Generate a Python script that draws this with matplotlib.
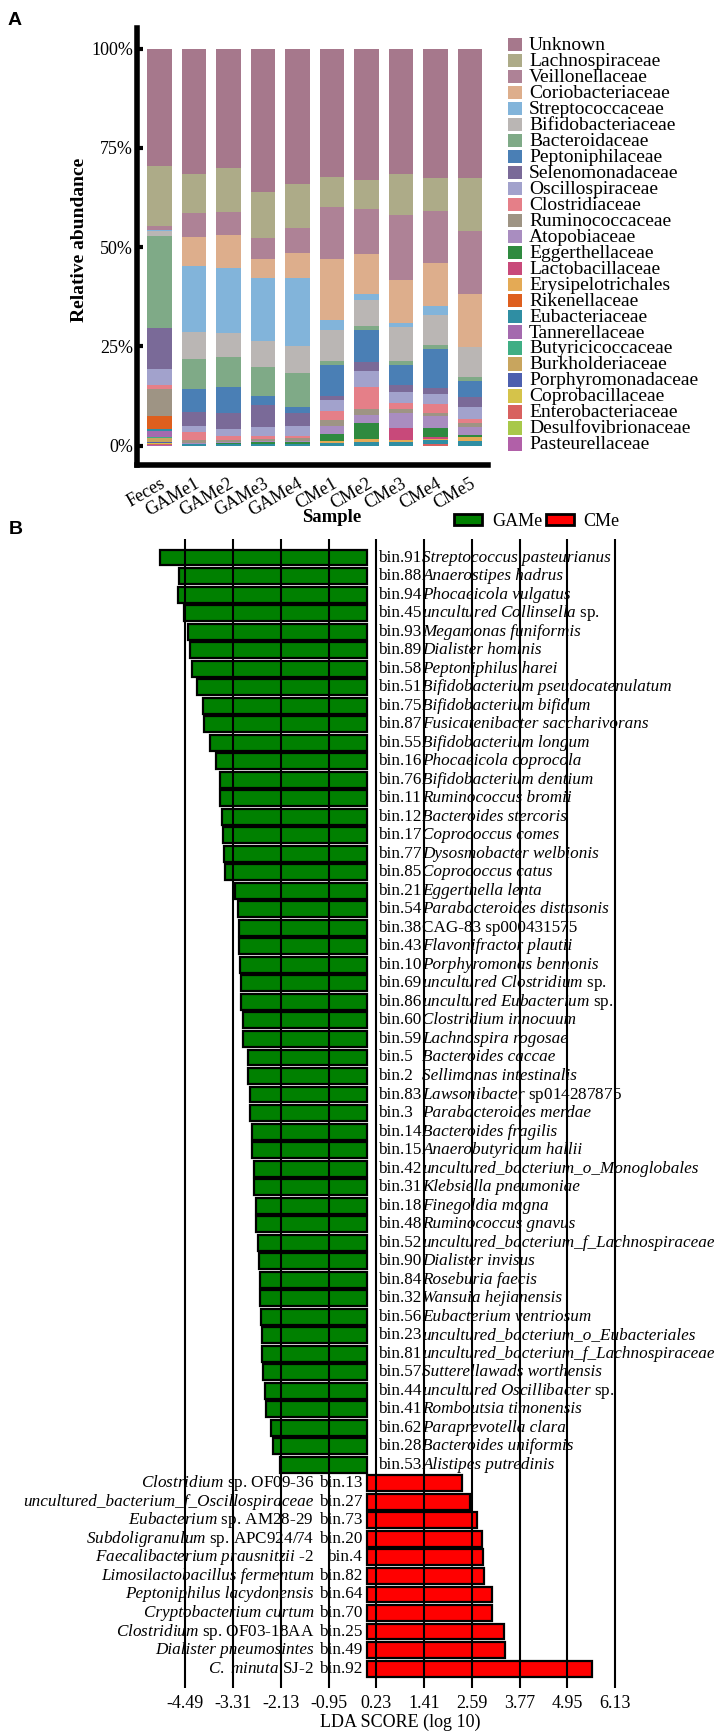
import numpy as np
import matplotlib
matplotlib.use('Agg')
import matplotlib.pyplot as plt
from matplotlib.patches import Rectangle, Patch

plt.rcParams['font.family'] = ['Liberation Serif', 'DejaVu Serif']
plt.rcParams['mathtext.fontset'] = 'custom'
plt.rcParams['mathtext.rm'] = 'Liberation Serif'
plt.rcParams['mathtext.it'] = 'Liberation Serif:italic'
plt.rcParams['mathtext.bf'] = 'Liberation Serif:bold'
plt.rcParams['axes.unicode_minus'] = False

# ---------------- panel A data ----------------
samples = ['Feces', 'GAMe1', 'GAMe2', 'GAMe3', 'GAMe4', 'CMe1', 'CMe2', 'CMe3', 'CMe4', 'CMe5']
families = ['Unknown', 'Lachnospiraceae', 'Veillonellaceae', 'Coriobacteriaceae', 'Streptococcaceae',
            'Bifidobacteriaceae', 'Bacteroidaceae', 'Peptoniphilaceae', 'Selenomonadaceae',
            'Oscillospiraceae', 'Clostridiaceae', 'Ruminococcaceae', 'Atopobiaceae', 'Eggerthellaceae',
            'Lactobacillaceae', 'Erysipelotrichales', 'Rikenellaceae', 'Eubacteriaceae', 'Tannerellaceae',
            'Butyricicoccaceae', 'Burkholderiaceae', 'Porphyromonadaceae', 'Coprobacillaceae',
            'Enterobacteriaceae', 'Desulfovibrionaceae', 'Pasteurellaceae']
fam_colors = ['#A6788C', '#ADAB88', '#AE8296', '#DDAE8C', '#82B4DA', '#BAB6B4', '#7FAA87', '#4A7FB5',
              '#7A6A98', '#A2A2CC', '#E57F88', '#9E9484', '#A98DC0', '#2F8A3F', '#C8497A', '#E4AA55',
              '#DE5F1E', '#2F8EA3', '#A46AAE', '#3FAE84', '#C8A55E', '#4D5FAE', '#D5C34A', '#D8615F',
              '#A8C84A', '#B160A8']

# relative abundance (%) per sample, in the order of `families`
feces = [29.6, 15.1, 1.2, 0.0, 0.1, 1.3, 23.1, 0.0, 10.5, 4.0, 1.0, 6.8, 0.0, 0.0, 0.0, 0.0, 3.3, 0.6, 1.4, 0.2, 1.2, 0.2, 0.3, 0.1, 0.1, 0.1]
game1 = [31.7, 9.7, 6.0, 7.3, 16.8, 6.7, 7.6, 5.7, 3.6, 1.4, 2.1, 0.7, 0.2, 0.2, 0.0, 0.0, 0.0, 0.3, 0.0, 0.0, 0.0, 0.0, 0.0, 0.0, 0.0, 0.0]
game2 = [30.0, 11.1, 5.9, 8.2, 16.4, 6.0, 7.7, 6.6, 3.9, 1.8, 1.0, 0.5, 0.3, 0.3, 0.0, 0.0, 0.0, 0.3, 0.0, 0.0, 0.0, 0.0, 0.0, 0.0, 0.0, 0.0]
game3 = [36.2, 11.4, 5.3, 5.0, 15.8, 6.4, 7.4, 2.3, 5.5, 2.3, 0.8, 0.5, 0.3, 0.4, 0.0, 0.0, 0.0, 0.4, 0.0, 0.0, 0.0, 0.0, 0.0, 0.0, 0.0, 0.0]
game4 = [34.0, 11.1, 6.3, 6.5, 17.0, 6.9, 8.4, 1.7, 3.2, 2.5, 0.6, 0.6, 0.4, 0.4, 0.0, 0.0, 0.0, 0.4, 0.0, 0.0, 0.0, 0.0, 0.0, 0.0, 0.0, 0.0]
cme1 = [32.4, 7.5, 13.0, 15.5, 2.6, 7.6, 1.0, 8.0, 0.8, 2.9, 2.3, 1.5, 1.9, 1.9, 0.0, 0.5, 0.0, 0.6, 0.0, 0.0, 0.0, 0.0, 0.0, 0.0, 0.0, 0.0]
cme2 = [33.1, 7.2, 11.5, 10.1, 1.5, 6.5, 1.0, 8.0, 2.3, 4.1, 5.5, 1.5, 2.1, 4.0, 0.0, 0.6, 0.0, 1.0, 0.0, 0.0, 0.0, 0.0, 0.0, 0.0, 0.0, 0.0]
cme3 = [31.7, 10.1, 16.5, 10.8, 1.0, 8.5, 1.1, 5.1, 1.6, 2.8, 1.7, 1.0, 3.8, 0.0, 2.9, 0.4, 0.0, 1.0, 0.0, 0.0, 0.0, 0.0, 0.0, 0.0, 0.0, 0.0]
cme4 = [32.5, 8.4, 13.0, 10.9, 2.3, 7.6, 1.0, 9.9, 1.4, 2.5, 2.2, 0.9, 3.1, 2.2, 0.4, 0.4, 0.0, 1.0, 0.0, 0.0, 0.0, 0.0, 0.0, 0.3, 0.0, 0.0]
cme5 = [32.5, 13.5, 15.8, 13.3, 0.0, 7.6, 1.0, 4.0, 2.5, 3.2, 0.9, 1.1, 2.0, 0.4, 0.0, 1.0, 0.0, 1.2, 0.0, 0.0, 0.0, 0.0, 0.0, 0.0, 0.0, 0.0]

# ---------------- panel B data ----------------
green_bins = ['bin.91', 'bin.88', 'bin.94', 'bin.45', 'bin.93', 'bin.89', 'bin.58', 'bin.51', 'bin.75',
              'bin.87', 'bin.55', 'bin.16', 'bin.76', 'bin.11', 'bin.12', 'bin.17', 'bin.77', 'bin.85',
              'bin.21', 'bin.54', 'bin.38', 'bin.43', 'bin.10', 'bin.69', 'bin.86', 'bin.60', 'bin.59',
              'bin.5', 'bin.2', 'bin.83', 'bin.3', 'bin.14', 'bin.15', 'bin.42', 'bin.31', 'bin.18',
              'bin.48', 'bin.52', 'bin.90', 'bin.84', 'bin.32', 'bin.56', 'bin.23', 'bin.81', 'bin.57',
              'bin.44', 'bin.41', 'bin.62', 'bin.28', 'bin.53']
# italic part | roman part
green_names = ['Streptococcus pasteurianus', 'Anaerostipes hadrus', 'Phocaeicola vulgatus',
               'uncultured Collinsella| sp.', 'Megamonas funiformis', 'Dialister hominis',
               'Peptoniphilus harei', 'Bifidobacterium pseudocatenulatum', 'Bifidobacterium bifidum',
               'Fusicatenibacter saccharivorans', 'Bifidobacterium longum', 'Phocaeicola coprocola',
               'Bifidobacterium dentium', 'Ruminococcus bromii', 'Bacteroides stercoris',
               'Coprococcus comes', 'Dysosmobacter welbionis', 'Coprococcus catus', 'Eggerthella lenta',
               'Parabacteroides distasonis', '|CAG-83 sp000431575', 'Flavonifractor plautii',
               'Porphyromonas bennonis', 'uncultured Clostridium| sp.', 'uncultured Eubacterium| sp.',
               'Clostridium innocuum', 'Lachnospira rogosae', 'Bacteroides caccae',
               'Sellimonas intestinalis', 'Lawsonibacter| sp014287875', 'Parabacteroides merdae',
               'Bacteroides fragilis', 'Anaerobutyricum hallii', 'uncultured_bacterium_o_Monoglobales',
               'Klebsiella pneumoniae', 'Finegoldia magna', 'Ruminococcus gnavus',
               'uncultured_bacterium_f_Lachnospiraceae', 'Dialister invisus', 'Roseburia faecis',
               'Wansuia hejianensis', 'Eubacterium ventriosum', 'uncultured_bacterium_o_Eubacteriales',
               'uncultured_bacterium_f_Lachnospiraceae', 'Sutterellawads worthensis',
               'uncultured Oscillibacter| sp.', 'Romboutsia timonensis', 'Paraprevotella clara',
               'Bacteroides uniformis', 'Alistipes putredinis']
green_lda = [-5.11, -4.65, -4.67, -4.52, -4.42, -4.37, -4.31, -4.19, -4.05, -4.02, -3.88, -3.73, -3.63,
             -3.62, -3.58, -3.56, -3.53, -3.51, -3.26, -3.19, -3.17, -3.15, -3.14, -3.12, -3.10, -3.07,
             -3.05, -2.95, -2.93, -2.90, -2.88, -2.85, -2.83, -2.80, -2.78, -2.75, -2.73, -2.70, -2.67,
             -2.65, -2.64, -2.62, -2.60, -2.59, -2.57, -2.52, -2.49, -2.38, -2.33, -2.16]

red_bins = ['bin.13', 'bin.27', 'bin.73', 'bin.20', 'bin.4', 'bin.82', 'bin.64', 'bin.70', 'bin.25',
            'bin.49', 'bin.92']
red_names = ['Clostridium| sp. OF09-36', 'uncultured_bacterium_f_Oscillospiraceae',
             'Eubacterium| sp. AM28-29', 'Subdoligranulum| sp. APC924/74',
             'Faecalibacterium prausnitzii| -2', 'Limosilactobacillus fermentum',
             'Peptoniphilus lacydonensis', 'Cryptobacterium curtum', 'Clostridium| sp. OF03-18AA',
             'Dialister pneumosintes', 'C. minuta| SJ-2']
red_lda = [2.35, 2.54, 2.72, 2.84, 2.86, 2.89, 3.09, 3.08, 3.38, 3.41, 5.56]

lda_ticks = [-4.49, -3.31, -2.13, -0.95, 0.23, 1.41, 2.59, 3.77, 4.95, 6.13]

W, H = 715, 1732


def box(x0, y0, x1, y1):
    return [x0 / W, 1 - y1 / H, (x1 - x0) / W, (y1 - y0) / H]


def species_label(s):
    if '|' not in s:
        return s, 'italic'
    it, rm = s.split('|', 1)
    if not it:
        return rm, 'normal'
    it = it.replace(' ', r'\ ')
    return r'$\mathit{' + it + '}$' + rm, 'normal'


fig = plt.figure(figsize=(W / 100, H / 100), dpi=100)

# ---------------- panel A ----------------
axA = fig.add_axes(box(137, 28, 488, 465))
vals = np.array([feces, game1, game2, game3, game4, cme1, cme2, cme3, cme4, cme5])
vals = vals / vals.sum(axis=1, keepdims=True) * 100
x = np.arange(len(samples))
bottom = np.zeros(len(samples))
for j in range(len(families) - 1, -1, -1):
    axA.bar(x, vals[:, j], bottom=bottom, width=0.72, color=fam_colors[j], linewidth=0)
    bottom += vals[:, j]

axA.set_xlim(-0.652, 9.52)
axA.set_ylim(-4.9, 105.2)
for s in ['top', 'right']:
    axA.spines[s].set_visible(False)
for s in ['left', 'bottom']:
    axA.spines[s].set_linewidth(4)
axA.set_yticks([0, 25, 50, 75, 100])
axA.set_yticklabels(['0%', '25%', '50%', '75%', '100%'], fontsize=13)
axA.tick_params(axis='y', direction='in', length=4, width=3, pad=3)
axA.set_xticks(x)
axA.set_xticklabels(samples, fontsize=13, rotation=30, ha='right', rotation_mode='anchor')
axA.tick_params(axis='x', length=0, pad=7)

fig.text(332 / W, 1 - 518 / H, 'Sample', ha='center', va='center', fontsize=13.5, weight='bold')
fig.text(80 / W, 1 - 240 / H, 'Relative abundance', ha='center', va='center', rotation=90,
         fontsize=14, weight='bold')

# legend of panel A
lax = fig.add_axes(box(508, 36.7, 715, 452))
lax.set_xlim(0, 207)
lax.set_ylim(len(families), 0)
lax.axis('off')
for i, (fam, col) in enumerate(zip(families, fam_colors)):
    lax.add_patch(Rectangle((0, i + 0.08), 14, 0.84, color=col, lw=0))
    lax.text(21, i + 0.55, fam, va='center', ha='left', fontsize=14)

# ---------------- panel B ----------------
axB = fig.add_axes(box(140, 539, 660, 1688))
yg = np.arange(len(green_lda))
yr = np.arange(len(green_lda), len(green_lda) + len(red_lda))
axB.barh(yg, green_lda, height=0.86, color='#008000', edgecolor='black', linewidth=1.6, zorder=2)
axB.barh(yr, red_lda, height=0.86, color='#FF0000', edgecolor='black', linewidth=1.6, zorder=2)
for t in lda_ticks:
    axB.axvline(t, color='black', lw=1.5, zorder=3)

for yi, b, n in zip(yg, green_bins, green_names):
    axB.text(0.27, yi, b, va='center', ha='left', fontsize=12.3, zorder=4)
    lab, st = species_label(n)
    axB.text(1.37, yi, lab, va='center', ha='left', fontsize=12.3, style=st, zorder=4)
for yi, b, n in zip(yr, red_bins, red_names):
    axB.text(-0.12, yi, b, va='center', ha='right', fontsize=12.3, zorder=4)
    lab, st = species_label(n)
    axB.text(-1.31, yi, lab, va='center', ha='right', fontsize=12.3, style=st, zorder=4)

axB.set_xlim(-5.605, 7.235)
axB.set_ylim(len(yg) + len(yr) + 0.05, -1.0)
for s in axB.spines.values():
    s.set_visible(False)
axB.set_yticks([])
axB.set_xticks(lda_ticks)
axB.set_xticklabels([f'{t:.2f}' for t in lda_ticks], fontsize=13)
axB.tick_params(axis='x', length=0, pad=5)
axB.set_xlabel('LDA SCORE (log 10)', fontsize=13, labelpad=1)

handles = [Patch(facecolor='#008000', edgecolor='black', linewidth=2, label='GAMe'),
           Patch(facecolor='#FF0000', edgecolor='black', linewidth=2, label='CMe')]
fig.legend(handles=handles, loc='center left', bbox_to_anchor=(454 / W, 1 - 521 / H), ncol=2,
           frameon=False, fontsize=13, handlelength=1.55, handleheight=0.55, handletextpad=0.55,
           columnspacing=0.2, borderpad=0, borderaxespad=0)

fig.text(8 / W, 1 - 12 / H, 'A', fontsize=14, weight='bold', family='Liberation Sans', va='top')
fig.text(9 / W, 1 - 521 / H, 'B', fontsize=14, weight='bold', family='Liberation Sans', va='top')

fig.savefig('out.png', dpi=100)
